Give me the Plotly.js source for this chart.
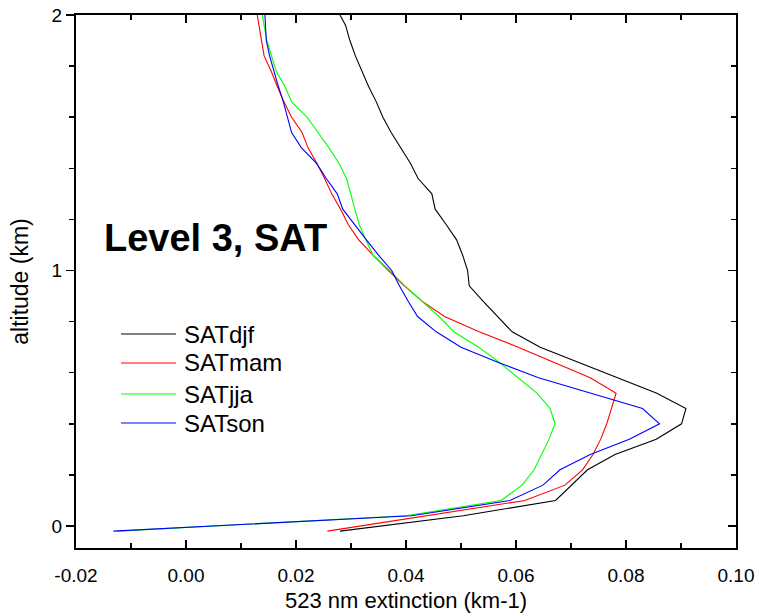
<!DOCTYPE html>
<html>
<head>
<meta charset="utf-8">
<script src="https://cdn.plot.ly/plotly-3.0.1.min.js"></script>
<style>html,body{margin:0;padding:0;background:#fff;}#chart{width:759px;height:616px;}</style>
</head>
<body>
<div id="chart"></div>
<script>
// Altitude levels (km)
var altitude = [-0.02, 0.04, 0.10, 0.16, 0.22, 0.28, 0.34, 0.40, 0.46, 0.52, 0.58, 0.64, 0.70, 0.76, 0.82, 0.88, 0.94, 1.00, 1.06, 1.12, 1.18, 1.24, 1.30, 1.36, 1.42, 1.48, 1.54, 1.60, 1.66, 1.72, 1.78, 1.84, 1.90, 1.96, 2.02];

// 523 nm extinction (km-1) per season
var SATdjf = [0.0280, 0.0504, 0.0672, 0.0701, 0.0730, 0.0780, 0.0855, 0.0901, 0.0909, 0.0856, 0.0785, 0.0714, 0.0644, 0.0593, 0.0566, 0.0540, 0.0515, 0.0512, 0.0503, 0.0492, 0.0473, 0.0453, 0.0447, 0.0422, 0.0408, 0.0390, 0.0373, 0.0358, 0.0346, 0.0332, 0.0320, 0.0308, 0.0298, 0.0290, 0.0275];
var SATmam = [0.0257, 0.0440, 0.0616, 0.0689, 0.0721, 0.0740, 0.0754, 0.0765, 0.0774, 0.0782, 0.0735, 0.0670, 0.0604, 0.0533, 0.0470, 0.0429, 0.0397, 0.0368, 0.0340, 0.0314, 0.0295, 0.0281, 0.0265, 0.0252, 0.0238, 0.0222, 0.0211, 0.0192, 0.0178, 0.0166, 0.0155, 0.0142, 0.0137, 0.0132, 0.0128];
var SATjja = [-0.0125, 0.0400, 0.0573, 0.0611, 0.0633, 0.0647, 0.0660, 0.0671, 0.0662, 0.0638, 0.0604, 0.0570, 0.0532, 0.0487, 0.0460, 0.0428, 0.0398, 0.0370, 0.0340, 0.0327, 0.0315, 0.0307, 0.0300, 0.0292, 0.0278, 0.0260, 0.0240, 0.0220, 0.0192, 0.0180, 0.0164, 0.0155, 0.0147, 0.0142, 0.0137];
var SATson = [-0.0132, 0.0410, 0.0589, 0.0649, 0.0680, 0.0735, 0.0806, 0.0861, 0.0830, 0.0736, 0.0641, 0.0568, 0.0500, 0.0455, 0.0421, 0.0404, 0.0388, 0.0374, 0.0350, 0.0328, 0.0307, 0.0285, 0.0275, 0.0255, 0.0237, 0.0210, 0.0192, 0.0185, 0.0177, 0.0168, 0.0160, 0.0152, 0.0146, 0.0145, 0.0143];

var seriesNames = ['SATdjf', 'SATmam', 'SATjja', 'SATson'];
var seriesValues = [SATdjf, SATmam, SATjja, SATson];
var seriesColors = ['#000000', '#ff0000', '#00ff00', '#0000ff'];

var xTickVals = [-0.02, 0.00, 0.02, 0.04, 0.06, 0.08, 0.10];
var xTickText = ['-0.02', '0.00', '0.02', '0.04', '0.06', '0.08', '0.10'];
var yTickVals = [0, 1, 2];
var yTickText = ['0', '1', '2'];

var FONT = 'Liberation Sans, Arial, sans-serif';

var traces = seriesNames.map(function (name, i) {
  return {
    type: 'scatter', mode: 'lines', name: name,
    x: seriesValues[i], y: altitude,
    line: {color: seriesColors[i], width: 1.1},
    showlegend: false, hoverinfo: 'skip', cliponaxis: true
  };
});
// empty helper trace so the right-hand tick axis is drawn
traces.push({type: 'scatter', mode: 'lines', x: [null], y: [null], yaxis: 'y2', showlegend: false, hoverinfo: 'skip'});

// manual legend (long sample lines like the original)
var legRowsY = [0.4015, 0.3471, 0.2889, 0.2345];
var shapes = [];
var annotations = [];
seriesNames.forEach(function (name, i) {
  shapes.push({type: 'line', xref: 'paper', yref: 'paper', x0: 0.0682, x1: 0.1515, y0: legRowsY[i], y1: legRowsY[i], line: {color: seriesColors[i], width: 1.1}});
  annotations.push({xref: 'paper', yref: 'paper', x: 0.160, y: legRowsY[i], xanchor: 'left', yanchor: 'middle', text: name, showarrow: false, font: {family: FONT, size: 24, color: '#000'}});
});
annotations.push({xref: 'paper', yref: 'paper', x: 0.040, y: 0.582, xanchor: 'left', yanchor: 'middle', text: '<b>Level 3, SAT</b>', showarrow: false, font: {family: FONT, size: 38, color: '#000'}});

var layout = {
  width: 759, height: 616,
  margin: {l: 76, r: 23, t: 15, b: 68, pad: 0},
  paper_bgcolor: '#fff', plot_bgcolor: '#fff',
  font: {family: FONT, color: '#000'},
  showlegend: false,
  xaxis: {
    range: [-0.02, 0.10], tickvals: xTickVals, ticktext: xTickText,
    ticks: 'inside', ticklen: 8, tickwidth: 1.5, tickcolor: '#000',
    minor: {dtick: 0.01, tick0: 0, ticks: 'inside', ticklen: 5, tickwidth: 1.5, tickcolor: '#000'},
    showline: true, linecolor: '#000', linewidth: 2, mirror: 'ticks',
    showgrid: false, zeroline: false, ticklabelstandoff: 9,
    tickfont: {family: FONT, size: 19, color: '#000'},
    title: {text: '523 nm extinction (km-1)', font: {family: FONT, size: 22, color: '#000'}, standoff: 8}
  },
  yaxis: {
    range: [-0.086, 2.0], tickvals: yTickVals, ticktext: yTickText,
    ticks: 'outside', ticklen: 8, tickwidth: 1.5, tickcolor: '#000',
    minor: {dtick: 0.2, tick0: 0, ticks: 'outside', ticklen: 5, tickwidth: 1.5, tickcolor: '#000'},
    showline: true, linecolor: '#000', linewidth: 2, mirror: true,
    showgrid: false, zeroline: false,
    tickfont: {family: FONT, size: 19, color: '#000'},
    title: {text: 'altitude (km)', font: {family: FONT, size: 23, color: '#000'}, standoff: 17}
  },
  yaxis2: {
    overlaying: 'y', side: 'right', range: [-0.086, 2.0], tickvals: yTickVals,
    ticks: 'inside', ticklen: 8, tickwidth: 1.5, tickcolor: '#000',
    minor: {dtick: 0.2, tick0: 0, ticks: 'inside', ticklen: 5, tickwidth: 1.5, tickcolor: '#000'},
    showticklabels: false, showline: false, showgrid: false, zeroline: false
  },
  shapes: shapes,
  annotations: annotations
};

Plotly.newPlot('chart', traces, layout, {staticPlot: true, displayModeBar: false});
</script>
</body>
</html>
